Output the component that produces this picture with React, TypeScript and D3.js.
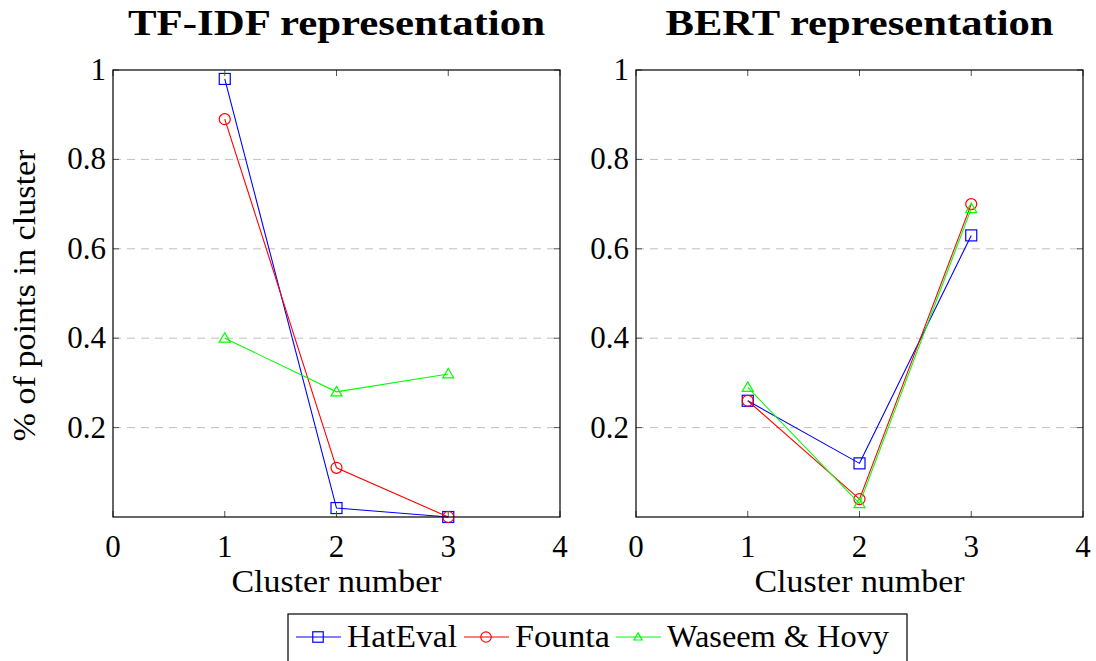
import React from 'react';
import * as d3 from 'd3';

// cluster indices on the x axis
const clusters = [1, 2, 3];

// share of points per cluster, TF-IDF
const tfidfHatEval = [0.98, 0.02, 0.0];
const tfidfFounta = [0.89, 0.11, 0.0];
const tfidfWaseem = [0.4, 0.28, 0.32];

// share of points per cluster, BERT
const bertHatEval = [0.26, 0.12, 0.63];
const bertFounta = [0.26, 0.04, 0.7];
const bertWaseem = [0.29, 0.03, 0.69];

const xTicks = [0, 1, 2, 3, 4];
const yTicks = [0.2, 0.4, 0.6, 0.8, 1];
const seriesNames = ['HatEval', 'Founta', 'Waseem & Hovy'];
const seriesColors = ['#0000ff', '#ff0000', '#00ff00'];
const seriesMarks = ['square', 'circle', 'triangle'];

const Marker = ({ kind, x, y, color, s = 1 }: { kind: string; x: number; y: number; color: string; s?: number }) => {
  if (kind === 'square')
    return <rect x={x - 5.5 * s} y={y - 5.5 * s} width={11 * s} height={11 * s} fill="none" stroke={color} strokeWidth={1.2} />;
  if (kind === 'circle')
    return <circle cx={x} cy={y} r={5.5 * s} fill="none" stroke={color} strokeWidth={1.2} />;
  return (
    <path
      d={`M${x},${y - 5.5 * s}L${x + 5.5 * s},${y + 4 * s}L${x - 5.5 * s},${y + 4 * s}Z`}
      fill="none"
      stroke={color}
      strokeWidth={1.2}
    />
  );
};

const Panel = ({ left, title, titleW, series, yLabel }: { left: number; title: string; titleW: number; series: number[][]; yLabel?: string }) => {
  const top = 70, bottom = 517, w = 447;
  const x = d3.scaleLinear().domain([0, 4]).range([left, left + w]);
  const y = d3.scaleLinear().domain([0, 1]).range([bottom, top]);
  const line = d3.line<number>().x((_, i) => x(clusters[i])).y((d) => y(d));

  return (
    <g>
      <text x={left + w / 2} y={35} textAnchor="middle" fontWeight="bold" fontSize={36}
        textLength={titleW} lengthAdjust="spacingAndGlyphs">
        {title}
      </text>
      {yTicks.filter((t) => t < 1).map((t) => (
        <line key={'g' + t} x1={left} x2={left + w} y1={y(t)} y2={y(t)} stroke="#c0c0c0" strokeDasharray="8,6" />
      ))}
      {series.map((vals, si) => (
        <g key={si}>
          <path d={line(vals) || ''} fill="none" stroke={seriesColors[si]} strokeWidth={1.1} />
          {vals.map((v, i) => (
            <Marker key={i} kind={seriesMarks[si]} x={x(clusters[i])} y={y(v)} color={seriesColors[si]} />
          ))}
        </g>
      ))}
      {xTicks.map((t) => (
        <g key={'x' + t}>
          <line x1={x(t)} x2={x(t)} y1={bottom} y2={bottom - 6} stroke="#555" />
          <line x1={x(t)} x2={x(t)} y1={top} y2={top + 6} stroke="#555" />
          <text x={x(t)} y={557} textAnchor="middle" fontSize={31}>{t}</text>
        </g>
      ))}
      {yTicks.map((t) => (
        <g key={'y' + t}>
          <line x1={left} x2={left + 6} y1={y(t)} y2={y(t)} stroke="#555" />
          <line x1={left + w} x2={left + w - 6} y1={y(t)} y2={y(t)} stroke="#555" />
          <text x={left - 7} y={y(t) + 10} textAnchor="end" fontSize={31}>{t}</text>
        </g>
      ))}
      <rect x={left} y={top} width={w} height={bottom - top} fill="none" stroke="#000" strokeWidth={1.2} />
      <text x={left + w / 2} y={592} textAnchor="middle" fontSize={31} textLength={210} lengthAdjust="spacingAndGlyphs">
        Cluster number
      </text>
      {yLabel && (
        <text transform={`translate(35,${(top + bottom) / 2 + 2}) rotate(-90)`} textAnchor="middle"
          fontSize={31} textLength={292} lengthAdjust="spacingAndGlyphs">
          {yLabel}
        </text>
      )}
    </g>
  );
};

const App = () => {
  const legendX = [296, 464, 616];
  const legendText = [110, 95, 222];
  return (
    <svg width={1096} height={661} fontFamily="Liberation Serif, serif"
      style={{ position: 'absolute', left: 0, top: 0, background: '#fff', fontFamily: 'Liberation Serif, serif' }}>
      <Panel left={113} title="TF-IDF representation" titleW={417} series={[tfidfHatEval, tfidfFounta, tfidfWaseem]}
        yLabel="% of points in cluster" />
      <Panel left={636} title="BERT representation" titleW={388} series={[bertHatEval, bertFounta, bertWaseem]} />
      <rect x={288} y={614} width={619} height={52} fill="#fff" stroke="#000" strokeWidth={1.2} />
      {seriesNames.map((n, i) => (
        <g key={n}>
          <line x1={legendX[i]} x2={legendX[i] + 45} y1={637} y2={637} stroke={seriesColors[i]} strokeWidth={1.1} />
          <Marker kind={seriesMarks[i]} x={legendX[i] + 22} y={637} color={seriesColors[i]} s={i === 2 ? 0.75 : 0.95} />
          <text x={legendX[i] + 51} y={647} fontSize={31} textLength={legendText[i]} lengthAdjust="spacingAndGlyphs">{n}</text>
        </g>
      ))}
    </svg>
  );
};

export default App;
